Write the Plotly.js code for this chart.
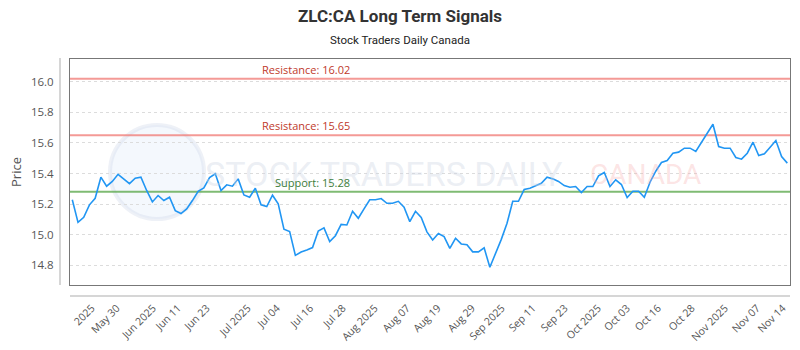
<!DOCTYPE html>
<html><head><meta charset="utf-8">
<script src="https://cdn.plot.ly/plotly-3.0.1.min.js"></script>
<style>html,body{margin:0;padding:0;background:#fff}#chart{width:800px;height:350px}</style>
</head><body><div id="chart"></div>
<script>
const prices = [
 15.228, 15.08, 15.113, 15.195, 15.238, 15.376, 15.317, 15.348, 15.395, 15.365, 15.334, 15.369, 15.376,
 15.289, 15.214, 15.256, 15.223, 15.245, 15.157, 15.138, 15.168, 15.223, 15.284, 15.306, 15.374, 15.398,
 15.289, 15.326, 15.317, 15.365, 15.26, 15.245, 15.304, 15.195, 15.184, 15.258, 15.201, 15.035, 15.02,
 14.864, 14.886, 14.9, 14.915, 15.024, 15.044, 14.954, 14.993, 15.067, 15.063, 15.153, 15.107,
 15.168, 15.228, 15.228, 15.236, 15.205, 15.205, 15.218, 15.179, 15.085, 15.153, 15.113, 15.018, 14.965,
 15.007, 14.987, 14.91, 14.976, 14.939, 14.934, 14.887, 14.887, 14.913, 14.786, 14.873, 14.969,
 15.074, 15.218, 15.218, 15.295, 15.304, 15.319, 15.336, 15.376, 15.365, 15.348, 15.321, 15.31, 15.315,
 15.275, 15.315, 15.315, 15.385, 15.407, 15.315, 15.359, 15.328, 15.243, 15.284, 15.284, 15.245,
 15.343, 15.415, 15.472, 15.485, 15.533, 15.54, 15.566, 15.566, 15.544, 15.608, 15.664, 15.723, 15.577,
 15.566, 15.566, 15.505, 15.494, 15.533, 15.605, 15.518, 15.529, 15.572, 15.616, 15.511, 15.468
];
const tickLabels = ["2025","May 30","Jun 2025","Jun 11","Jun 23","Jul 2025","Jul 04","Jul 16","Jul 28",
 "Aug 2025","Aug 07","Aug 19","Aug 29","Sep 2025","Sep 11","Sep 23","Oct 2025","Oct 03","Oct 16",
 "Oct 28","Nov 2025","Nov 07","Nov 14"];
const tickIndex = [3.4, 7.8, 14.1, 18.5, 23.5, 30.7, 35.8, 41.6, 47.3, 52.9, 58.5, 63.9, 69.9, 75.1,
 80.5, 86.1, 91.9, 97.0, 102.4, 108.3, 114.1, 119.7, 124.2];
const resistanceLevels = [16.02, 15.65];
const supportLevels = [15.28];

const xIdx = prices.map((_, i) => i);
const px = v => (v - 70) / 720;      // page x -> paper
const py = v => (285 - v) / 226;     // page y -> paper

const shapes = [];
const annotations = [];
// watermark (drawn first, beneath everything)
shapes.push({type:'circle', xref:'paper', yref:'paper', x0:px(110), x1:px(204),
  y0:py(219), y1:py(125), layer:'below',
  fillcolor:'rgba(220,232,247,0.3)', line:{color:'rgba(205,215,232,0.35)', width:4}});
annotations.push({xref:'paper', yref:'paper', x:px(203), y:py(174), xanchor:'left', yanchor:'middle',
  showarrow:false, text:'STOCK TRADERS DAILY',
  font:{family:'Roboto', size:34, color:'rgba(205,213,228,0.4)'}});
annotations.push({xref:'paper', yref:'paper', x:px(588), y:py(174), xanchor:'left', yanchor:'middle',
  showarrow:false, text:'CANADA',
  font:{family:'Roboto', size:28, color:'rgba(245,165,165,0.3)'}});

resistanceLevels.forEach(v => {
  shapes.push({type:'line', xref:'paper', yref:'y', x0:0, x1:1, y0:v, y1:v, layer:'below',
    line:{color:'rgba(240,120,115,0.75)', width:2}});
  annotations.push({xref:'paper', yref:'y', x:px(352), y:v, xanchor:'right', yanchor:'bottom',
    text:'Resistance: ' + v.toFixed(2), showarrow:false,
    font:{family:'Open Sans', size:11, color:'#c0392b'}});
});
supportLevels.forEach(v => {
  shapes.push({type:'line', xref:'paper', yref:'y', x0:0, x1:1, y0:v, y1:v, layer:'below',
    line:{color:'rgba(95,170,80,0.8)', width:2}});
  annotations.push({xref:'paper', yref:'y', x:px(352), y:v, xanchor:'right', yanchor:'bottom',
    text:'Support: ' + v.toFixed(2), showarrow:false,
    font:{family:'Open Sans', size:11, color:'#3d7d3a'}});
});
// offset axis lines
shapes.push({type:'line', xref:'paper', yref:'paper', x0:px(60), x1:px(60), y0:0, y1:py(58),
  line:{color:'#c8c8c8', width:1.5}});
shapes.push({type:'line', xref:'paper', yref:'paper', x0:0, x1:1, y0:py(296), y1:py(296),
  line:{color:'#c8c8c8', width:1.5}});
// subtitle
annotations.push({xref:'paper', yref:'paper', x:px(400), y:py(40), showarrow:false,
  xanchor:'center', yanchor:'middle',
  text:'Stock Traders Daily Canada', font:{family:'Roboto', size:11.5, color:'#222'}});

const trace = {x:xIdx, y:prices, type:'scatter', mode:'lines',
  line:{color:'#2196f3', width:1.6}, hoverinfo:'skip'};

const layout = {
  width:800, height:350,
  margin:{l:70, r:10, t:59, b:65},
  paper_bgcolor:'#fff', plot_bgcolor:'#fff',
  showlegend:false,
  title:{text:'<b>ZLC:CA Long Term Signals</b>', x:0.5, xref:'container', xanchor:'center',
    y:1-16/350, yref:'container', yanchor:'middle',
    font:{family:'Roboto', size:17, color:'#333'}},
  xaxis:{range:[-0.4, 125.47], tickvals:tickIndex, ticktext:tickLabels, tickangle:-45,
    showgrid:false, zeroline:false, showline:true, mirror:true, linecolor:'#777', linewidth:1,
    ticks:'outside', ticklen:12, tickcolor:'rgba(0,0,0,0)',
    tickfont:{family:'Open Sans', size:10.5, color:'#555'}},
  yaxis:{range:[14.67, 16.15], dtick:0.2, tick0:14.8, tickformat:'.1f',
    showgrid:true, gridcolor:'#dcdcdc', griddash:'dot', gridwidth:1, zeroline:false,
    showline:true, mirror:true, linecolor:'#777', linewidth:1,
    ticks:'outside', ticklen:13, tickcolor:'rgba(0,0,0,0)',
    tickfont:{family:'Open Sans', size:11.5, color:'#555'},
    title:{text:'Price', font:{family:'Open Sans', size:13, color:'#555'}, standoff:6}},
  shapes:shapes, annotations:annotations
};
Plotly.newPlot('chart', [trace], layout, {staticPlot:true, displayModeBar:false});
</script></body></html>
